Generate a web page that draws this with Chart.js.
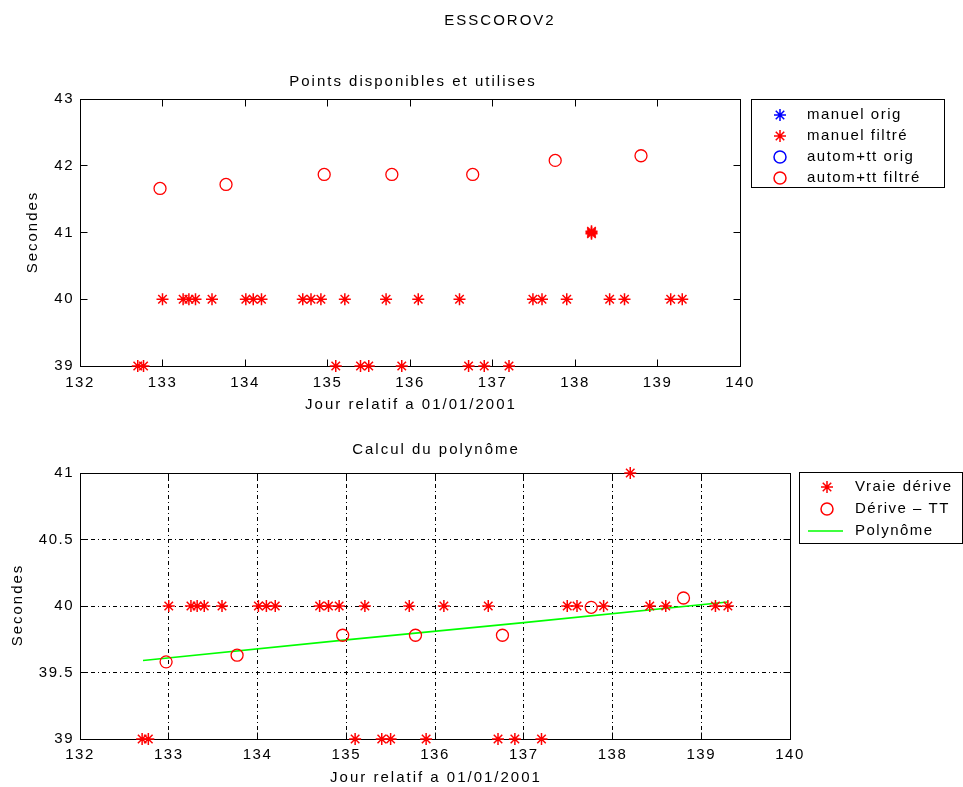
<!DOCTYPE html>
<html><head><meta charset="utf-8">
<script src="https://cdn.jsdelivr.net/npm/chart.js@4/dist/chart.umd.min.js"></script>
<style>
html,body{margin:0;padding:0;background:#fff;}
#wrap{position:relative;width:963px;height:787px;overflow:hidden;background:#fff;}
canvas{position:absolute;left:0;}
#c1{top:0}
#c2{top:430px}
</style></head><body>
<div id="wrap"><canvas id="c1" width="963" height="430"></canvas><canvas id="c2" width="963" height="357"></canvas></div>
<script>
// ---------------- data ----------------
const xTicks = [132,133,134,135,136,137,138,139,140];
const yTicksTop = [39,40,41,42,43];
const yTicksBottom = [39,39.5,40,40.5,41];

// manual measurements (Jour relatif, Secondes)
const manuelJour = [132.70,132.77,133.00,133.25,133.32,133.40,133.60,134.01,134.10,134.20,134.70,134.80,134.92,135.10,135.21,135.40,135.50,135.71,135.90,136.10,136.60,136.71,136.90,137.20,137.49,137.60,137.90,138.20,138.42,138.60,139.16,139.30];
const manuelSec  = [39,39,40,40,40,40,40,40,40,40,40,40,40,39,40,39,39,40,39,40,40,39,39,39,40,40,40,41,40,40,40,40];
// overlapping duplicates near 41 s in the top panel (bold-looking star)
const manuelDoublonsJour = [138.20,138.20];
const manuelDoublonsSec  = [40.98,41.02];
// original (unfiltered) series are hidden under the filtered ones
const manuelOrigJour = [];
const manuelOrigSec  = [];
const automOrigJour = [];
const automOrigSec  = [];

// autom+tt
const automJour = [132.97,133.77,134.96,135.78,136.76,137.76,138.80];
const automFiltreSec = [41.66,41.72,41.87,41.87,41.87,42.08,42.15];
// bottom panel: derive - TT
const deriveTT = [39.58,39.63,39.78,39.78,39.78,39.99,40.06];
// polynome
const polyJour = [132.71,135.00,137.00,139.30];
const polySec  = [39.59,39.745,39.875,40.03];

// ---------------- helpers ----------------
const FONT = '"Liberation Sans", Arial, Helvetica, sans-serif';
Chart.defaults.font.family = FONT;
Chart.defaults.font.size = 15;
Chart.defaults.color = '#000';
function toXY(xs, ys){ return xs.map((x,i)=>({x:x, y:ys[i]})); }
const al = p => Math.round(p - 0.5) + 0.5;

const framePlugin = {
  id:'frame',
  beforeDraw(chart){ chart.ctx.letterSpacing = '1.5px'; },
  beforeDatasetsDraw(chart){
    const ctx = chart.ctx, a = chart.chartArea, x = chart.scales.x, y = chart.scales.y;
    ctx.save();
    ctx.strokeStyle='#000'; ctx.lineWidth=1; ctx.setLineDash([]);
    const L=al(a.left), R=al(a.right), T=al(a.top), B=al(a.bottom);
    ctx.strokeRect(L,T,R-L,B-T);
    const tl=7;
    ctx.beginPath();
    x.ticks.forEach(t=>{ const px=al(x.getPixelForValue(t.value)); ctx.moveTo(px,B); ctx.lineTo(px,B-tl); ctx.moveTo(px,T); ctx.lineTo(px,T+tl); });
    y.ticks.forEach(t=>{ const py=al(y.getPixelForValue(t.value)); ctx.moveTo(L,py); ctx.lineTo(L+tl,py); ctx.moveTo(R,py); ctx.lineTo(R-tl,py); });
    ctx.stroke();
    ctx.restore();
  }
};

function drawMarker(ctx, style, color, x, y){
  ctx.save();
  ctx.strokeStyle = color; ctx.fillStyle = 'rgba(0,0,0,0)'; ctx.lineWidth = 1.5;
  Chart.helpers.drawPoint(ctx, {pointStyle:style, rotation:0, radius:6, borderWidth:1.5}, x, y);
  ctx.restore();
}

const textPlugin = {
  id:'texts',
  afterDraw(chart, args, opts){
    const ctx = chart.ctx;
    ctx.save();
    ctx.fillStyle='#000';
    ctx.font = '15px ' + FONT;
    ctx.letterSpacing = '2px';
    ctx.textBaseline='middle';
    (opts.texts||[]).forEach(t=>{
      ctx.save();
      ctx.translate(t.x, t.y);
      if (t.rot) ctx.rotate(-Math.PI/2);
      ctx.textAlign='center';
      ctx.fillText(t.text, 0, 0);
      ctx.restore();
    });
    const lg = opts.legend;
    if (lg){
      ctx.strokeStyle='#000'; ctx.lineWidth=1; ctx.setLineDash([]);
      ctx.strokeRect(lg.box[0]+0.5, lg.box[1]+0.5, lg.box[2], lg.box[3]);
      ctx.letterSpacing = '1.5px';
      ctx.textAlign='left';
      lg.items.forEach((it,i)=>{
        const yy = lg.rows[i];
        if (it.style==='line'){
          ctx.save(); ctx.strokeStyle=it.color; ctx.lineWidth=1.6;
          ctx.beginPath(); ctx.moveTo(lg.lineX[0], yy); ctx.lineTo(lg.lineX[1], yy); ctx.stroke(); ctx.restore();
        } else {
          drawMarker(ctx, it.style, it.color, lg.markX, yy);
        }
        ctx.fillStyle='#000';
        ctx.fillText(it.label, lg.textX, yy);
      });
    }
    ctx.restore();
  }
};

const tickFmt = v => String(v);
const starDs = (label, data) => ({label, data, pointStyle:'star', pointRadius:6, pointHoverRadius:6, borderColor:'#ff0000', backgroundColor:'rgba(0,0,0,0)', pointBorderWidth:1.5, clip:false});
const circDs = (label, data, color) => ({label, data, pointStyle:'circle', pointRadius:6, pointHoverRadius:6, borderColor:color, backgroundColor:'rgba(0,0,0,0)', pointBorderWidth:1.3, clip:false});

// ---------------- top chart ----------------
new Chart(document.getElementById('c1'), {
  type:'scatter',
  data:{datasets:[
    starDs('manuel filtré', toXY(manuelJour.concat(manuelDoublonsJour), manuelSec.concat(manuelDoublonsSec))),
    circDs('autom+tt filtré', toXY(automJour, automFiltreSec), '#ff0000'),
    Object.assign(starDs('manuel orig', toXY(manuelOrigJour, manuelOrigSec)), {borderColor:'#0000ff'}),
    circDs('autom+tt orig', toXY(automOrigJour, automOrigSec), '#0000ff')
  ]},
  options:{
    responsive:false, animation:false, events:[],
    layout:{padding:{top:99,right:223,bottom:34,left:0}},
    plugins:{legend:{display:false}, tooltip:{enabled:false},
      texts:{
        texts:[
          {text:'ESSCOROV2', x:500, y:21},
          {text:'Points disponibles et utilises', x:413, y:82},
          {text:'Secondes', x:33, y:232, rot:true},
          {text:'Jour relatif a 01/01/2001', x:411, y:405}
        ],
        legend:{box:[751,99,193,88], rows:[115,136,157,178], markX:780, textX:807, lineX:[0,0],
          items:[
            {style:'star', color:'#0000ff', label:'manuel orig'},
            {style:'star', color:'#ff0000', label:'manuel filtré'},
            {style:'circle', color:'#0000ff', label:'autom+tt orig'},
            {style:'circle', color:'#ff0000', label:'autom+tt filtré'}
          ]}
      }
    },
    scales:{
      x:{type:'linear', min:xTicks[0], max:xTicks[xTicks.length-1], afterFit:s=>{s.height=30;},
         afterBuildTicks:s=>{s.ticks = xTicks.map(v=>({value:v}));},
         ticks:{padding:8, callback:tickFmt, font:{size:15}},
         grid:{display:false, drawTicks:false}, border:{display:false}},
      y:{type:'linear', min:yTicksTop[0], max:yTicksTop[yTicksTop.length-1], afterFit:s=>{s.width=80;},
         afterBuildTicks:s=>{s.ticks = yTicksTop.map(v=>({value:v}));},
         ticks:{padding:6, callback:tickFmt, font:{size:15}},
         grid:{display:false, drawTicks:false}, border:{display:false}}
    }
  },
  plugins:[framePlugin, textPlugin]
});

// ---------------- bottom chart ----------------
new Chart(document.getElementById('c2'), {
  type:'scatter',
  data:{datasets:[
    starDs('Vraie dérive', toXY(manuelJour, manuelSec)),
    circDs('Dérive – TT', toXY(automJour, deriveTT), '#ff0000'),
    {label:'Polynôme', data: toXY(polyJour, polySec), showLine:true, pointRadius:0, borderColor:'#00ff00', borderWidth:1.6, backgroundColor:'#00ff00', clip:false}
  ]},
  options:{
    responsive:false, animation:false, events:[],
    layout:{padding:{top:43,right:173,bottom:18,left:0}},
    plugins:{legend:{display:false}, tooltip:{enabled:false},
      texts:{
        texts:[
          {text:'Calcul du polynôme', x:436, y:20},
          {text:'Secondes', x:18, y:175, rot:true},
          {text:'Jour relatif a 01/01/2001', x:436, y:348}
        ],
        legend:{box:[799,42,163,71], rows:[57,79,101], markX:827, textX:855, lineX:[808,843],
          items:[
            {style:'star', color:'#ff0000', label:'Vraie dérive'},
            {style:'circle', color:'#ff0000', label:'Dérive – TT'},
            {style:'line', color:'#00ff00', label:'Polynôme'}
          ]}
      }
    },
    scales:{
      x:{type:'linear', min:xTicks[0], max:xTicks[xTicks.length-1], afterFit:s=>{s.height=30;},
         afterBuildTicks:s=>{s.ticks = xTicks.map(v=>({value:v}));},
         ticks:{padding:7, callback:tickFmt, font:{size:15}},
         grid:{display:true, drawTicks:false, color:'#000', lineWidth:1}, border:{display:false, dash:[4,3,1,3]}},
      y:{type:'linear', min:yTicksBottom[0], max:yTicksBottom[yTicksBottom.length-1], afterFit:s=>{s.width=80;},
         afterBuildTicks:s=>{s.ticks = yTicksBottom.map(v=>({value:v}));},
         ticks:{padding:6, callback:tickFmt, font:{size:15}},
         grid:{display:true, drawTicks:false, color:'#000', lineWidth:1}, border:{display:false, dash:[4,3,1,3]}}
    }
  },
  plugins:[framePlugin, textPlugin]
});
</script>
</body></html>
